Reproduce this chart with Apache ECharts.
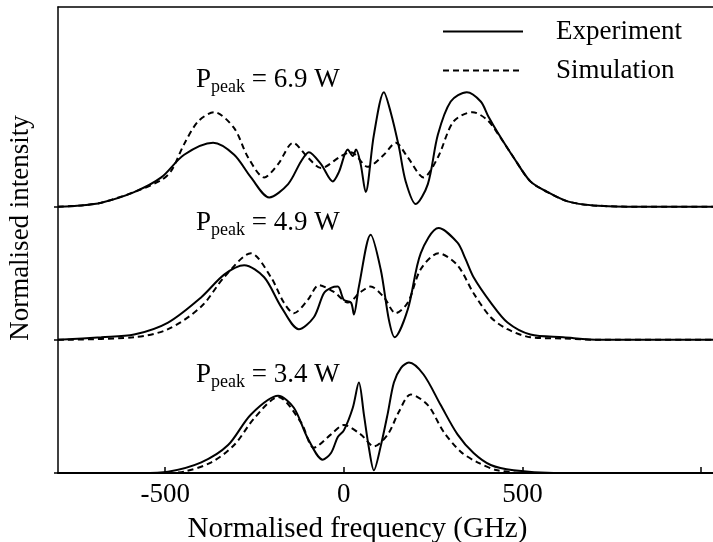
<!DOCTYPE html>
<html>
<head>
<meta charset="utf-8">
<title></title>
<script type="text/javascript" src="https://cdn.jsdelivr.net/npm/echarts@6.0.0/dist/echarts.min.js"></script>
</head>
<body style="margin:0;background:#fff;">
	<div id="main" style="width: 713px; height: 542px;"></div>

	<script type="text/javascript">
		// frequency (GHz), normalised intensity (offsets added below)
		var exp69 = [[-800,0],[-735,0.01],[-679,0.03],[-587,0.11],[-511,0.22],[-447,0.39],[-366,0.48],[-307,0.39],[-260,0.22],[-209,0.07],[-156,0.17],[-120,0.34],[-98,0.41],[-64,0.32],[-31,0.19],[-14,0.26],[11,0.43],[25,0.38],[34,0.43],[47,0.32],[61,0.11],[84,0.54],[112,0.86],[131,0.71],[154,0.45],[173,0.19],[201,0.02],[235,0.17],[263,0.54],[299,0.79],[344,0.86],[383,0.79],[404,0.68],[430,0.56],[475,0.37],[522,0.19],[570,0.11],[626,0.04],[698,0.01],[830,0],[1033,0]];
		var sim69 = [[-800,0],[-735,0.01],[-679,0.03],[-587,0.11],[-511,0.2],[-483,0.27],[-447,0.47],[-408,0.64],[-363,0.71],[-307,0.59],[-268,0.37],[-223,0.22],[-184,0.32],[-142,0.48],[-101,0.37],[-64,0.29],[-8,0.38],[20,0.41],[67,0.3],[112,0.39],[145,0.48],[179,0.37],[223,0.22],[263,0.37],[307,0.64],[360,0.71],[402,0.65],[438,0.52],[475,0.37],[522,0.19],[570,0.11],[626,0.04],[698,0.01],[830,0],[1033,0]];
		var exp49 = [[-800,0],[-679,0.02],[-587,0.04],[-492,0.13],[-399,0.32],[-335,0.49],[-279,0.56],[-223,0.47],[-176,0.25],[-126,0.08],[-84,0.17],[-56,0.35],[-36,0.39],[-17,0.4],[0,0.3],[20,0.28],[28,0.19],[42,0.4],[75,0.79],[103,0.53],[126,0.15],[142,0.02],[179,0.23],[215,0.65],[265,0.84],[318,0.73],[340,0.61],[363,0.47],[411,0.28],[458,0.13],[522,0.04],[614,0.02],[718,0],[1033,0]];
		var sim49 = [[-800,0],[-587,0.02],[-492,0.08],[-399,0.25],[-335,0.47],[-260,0.65],[-204,0.47],[-168,0.28],[-140,0.2],[-101,0.3],[-70,0.41],[-28,0.36],[11,0.28],[47,0.36],[75,0.4],[112,0.32],[145,0.2],[179,0.28],[215,0.53],[265,0.65],[318,0.56],[363,0.35],[411,0.17],[458,0.08],[522,0.02],[614,0.01],[718,0],[1033,0]];
		var exp34 = [[-800,0],[-567,0],[-492,0.01],[-399,0.08],[-324,0.21],[-260,0.44],[-184,0.58],[-140,0.49],[-101,0.26],[-59,0.1],[-36,0.15],[-17,0.27],[0,0.32],[25,0.49],[42,0.68],[56,0.44],[70,0.19],[84,0.02],[103,0.2],[123,0.45],[140,0.68],[160,0.79],[182,0.83],[223,0.74],[271,0.51],[318,0.29],[363,0.15],[411,0.06],[475,0.02],[587,0],[1033,0]];
		var sim34 = [[-800,0],[-492,0],[-447,0.01],[-371,0.08],[-307,0.21],[-251,0.41],[-184,0.57],[-120,0.38],[-84,0.19],[-36,0.29],[0,0.36],[47,0.29],[84,0.2],[123,0.29],[154,0.46],[187,0.59],[235,0.51],[279,0.31],[327,0.16],[374,0.08],[430,0.02],[522,0],[1033,0]];

		var offsets = [2, 1, 0];
		var peakLabels = ['6.9', '4.9', '3.4'];
		var xLabelValues = [-500, 0, 500];
		var xTickValues = [-500, 0, 500, 1000];
		var yTickValues = [0, 1, 2];

		var FONT = '"Liberation Serif", "Times New Roman", serif';

		function shift(arr, off) {
			return arr.map(function (p) { return [p[0], p[1] + off]; });
		}

		var expSets = [exp69, exp49, exp34];
		var simSets = [sim69, sim49, sim34];
		var series = [];
		for (var i = 0; i < 3; i++) {
			series.push({
				name: 'Experiment', type: 'line', symbol: 'none', smooth: 0.3,
				itemStyle: { color: '#000' },
				lineStyle: { color: '#000', width: 2 },
				data: shift(expSets[i], offsets[i])
			});
			series.push({
				name: 'Simulation', type: 'line', symbol: 'none', smooth: 0.3,
				itemStyle: { color: '#000' },
				lineStyle: { color: '#000', width: 2, type: [6, 4] },
				data: shift(simSets[i], offsets[i])
			});
		}

		var labelTops = [66, 209, 361];
		var graphics = [];
		for (var k = 0; k < 3; k++) {
			graphics.push({
				type: 'text', left: 196, top: labelTops[k],
				style: {
					text: '{a|P}{b|peak}{a| = ' + peakLabels[k] + ' W}',
					rich: {
						a: { fontSize: 27, fontFamily: FONT, fill: '#000' },
						b: { fontSize: 18, fontFamily: FONT, fill: '#000', padding: [16, 0, 0, 0] }
					}
				}
			});
		}

		var myChart = echarts.init(document.getElementById('main'));
		myChart.setOption({
			animation: false,
			color: ['#000'],
			backgroundColor: '#fff',
			grid: { left: 58, right: 0, top: 7, bottom: 69, outerBoundsMode: 'none' },
			legend: {
				orient: 'vertical', left: 442, top: 18, padding: 0,
				itemWidth: 80, itemHeight: 14, itemGap: 12,
				itemStyle: { opacity: 0 },
				data: ['Experiment', 'Simulation'],
				textStyle: { fontSize: 27, fontFamily: FONT, color: '#000', padding: [0, 0, 0, 28] }
			},
			xAxis: [{
				type: 'value', min: -800, max: 1033,
				name: 'Normalised frequency (GHz)', nameLocation: 'middle', nameGap: 42,
				nameTextStyle: { fontSize: 29, fontFamily: FONT, color: '#000', padding: [0, 56, 0, 0] },
				axisLine: { lineStyle: { color: '#000', width: 2 } },
				axisTick: { inside: true, length: 6, customValues: xTickValues, lineStyle: { color: '#000', width: 1.5 } },
				axisLabel: { customValues: xLabelValues, fontSize: 27, fontFamily: FONT, color: '#000', margin: 8 },
				splitLine: { show: false }
			}, {
				type: 'value', min: -800, max: 1033, position: 'top',
				axisLine: { onZero: false, lineStyle: { color: '#000', width: 1.5 } },
				axisTick: { show: false }, axisLabel: { show: false }, splitLine: { show: false }
			}],
			yAxis: {
				type: 'value', min: 0, max: 3.5,
				name: 'Normalised intensity', nameLocation: 'middle', nameGap: 24,
				nameTextStyle: { fontSize: 27, fontFamily: FONT, color: '#000', padding: [0, 0, 0, 24] },
				axisLine: { onZero: false, lineStyle: { color: '#000', width: 1.5 } },
				axisTick: { length: 4, customValues: yTickValues, lineStyle: { color: '#000', width: 1.5 } },
				axisLabel: { show: false },
				splitLine: { show: false }
			},
			graphic: graphics,
			series: series
		});
	</script>
</body>
</html>
